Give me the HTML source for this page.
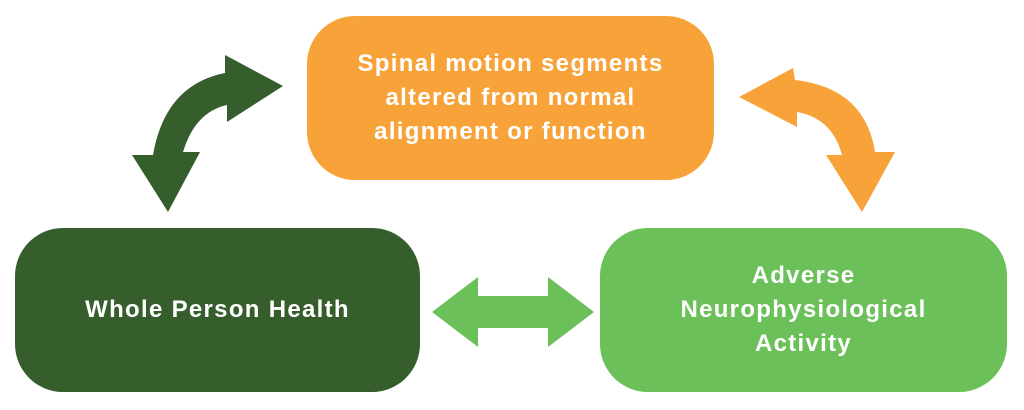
<!DOCTYPE html>
<html><head><style>
body{margin:0;width:1024px;height:410px;background:#fff;overflow:hidden;position:relative;font-family:"Liberation Sans",sans-serif}
.b{position:absolute;border-radius:48px;color:#fff;font-weight:bold;font-size:24px;letter-spacing:1.3px;line-height:34px;display:flex;align-items:center;justify-content:center;text-align:center}
</style></head><body>
<svg width="1024" height="410" style="position:absolute;left:0;top:0">
<path d="M283,86 L225,55 L225,73 Q165,85 153,155 L132,155 L168,212 L200,152 L183,152 Q195,112 227,105 L227,122 Z" fill="#365e2d"/>
<path d="M739,97 L793,68 L795,80 Q865,88 875,152 L895,152 L862,212 L826,155 L842,155 Q832,118 797,112 L797,127 Z" fill="#f8a33a"/>
<path d="M432,312 L478,277 L478,296 L548,296 L548,277 L594,312 L548,347 L548,328 L478,328 L478,347 Z" fill="#6cc05a"/>
</svg>
<div class="b" style="left:307px;top:16px;width:407px;height:164px;background:#f8a33a">Spinal motion segments<br>altered from normal<br>alignment or function</div>
<div class="b" style="left:15px;top:228px;width:405px;height:164px;background:#365e2d">Whole Person Health</div>
<div class="b" style="left:600px;top:228px;width:407px;height:164px;background:#6cc05a">Adverse<br>Neurophysiological<br>Activity</div>
</body></html>
